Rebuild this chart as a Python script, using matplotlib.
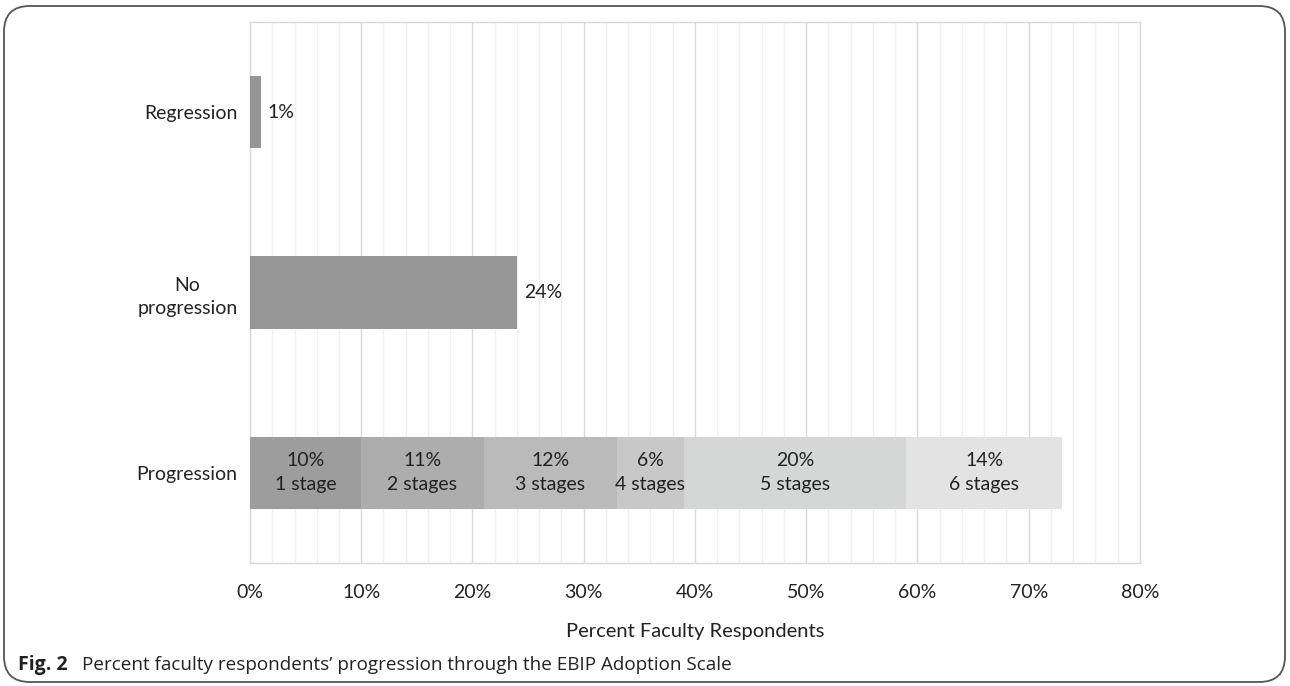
import matplotlib
matplotlib.use("Agg")
import matplotlib.pyplot as plt
from matplotlib.patches import FancyBboxPatch
from matplotlib.ticker import MultipleLocator, PercentFormatter

# Data
categories = ["Progression", "No\nprogression", "Regression"]
single_values = {"Regression": 1, "No\nprogression": 24}
stage_values = [10, 11, 12, 6, 20, 14]
stage_labels = ["1 stage", "2 stages", "3 stages", "4 stages", "5 stages", "6 stages"]
stage_colors = ["#9d9d9d", "#adadad", "#bababa", "#c8c8c8", "#d5d6d6", "#e3e3e3"]
single_color = "#969696"

plt.rcParams["font.family"] = ["Lato", "DejaVu Sans"]

fig = plt.figure(figsize=(12.9, 6.86), dpi=100)
ax = fig.add_axes([0.1938, 0.1793, 0.6899, 0.7886])

ypos = {c: i for i, c in enumerate(categories)}
bar_h = 0.4

# Stacked progression bar
left = 0
for v, lab, col in zip(stage_values, stage_labels, stage_colors):
    ax.barh(ypos["Progression"], v, left=left, height=bar_h, color=col, zorder=3)
    ax.text(left + v / 2, ypos["Progression"], f"{v}%\n{lab}", ha="center", va="center",
            fontsize=14, color="#222222", linespacing=1.5, zorder=4)
    left += v

# Single bars
for cat, v in single_values.items():
    ax.barh(ypos[cat], v, height=bar_h, color=single_color, zorder=3)
    ax.text(v + 0.6, ypos[cat], f"{v}%", ha="left", va="center", fontsize=14,
            color="#222222", zorder=4)

ax.set_xlim(0, 80)
ax.set_ylim(-0.5, 2.5)
ax.xaxis.set_major_locator(MultipleLocator(10))
ax.xaxis.set_minor_locator(MultipleLocator(2))
ax.xaxis.set_major_formatter(PercentFormatter(decimals=0))
ax.grid(axis="x", which="major", color="#d9d9d9", linewidth=1.0, zorder=0)
ax.grid(axis="x", which="minor", color="#f0f0f0", linewidth=1.0, zorder=0)
ax.set_axisbelow(True)

ax.set_yticks(list(ypos.values()))
ax.set_yticklabels(categories, multialignment="center", linespacing=1.4)
ax.tick_params(axis="both", which="both", length=0, labelsize=14, colors="#222222")
ax.tick_params(axis="x", pad=15)
ax.tick_params(axis="y", pad=9)
for s in ax.spines.values():
    s.set_color("#d9d9d9")
    s.set_linewidth(1.0)

ax.set_xlabel("Percent Faculty Respondents", fontsize=14.5, color="#222222", labelpad=16)

# Caption
fig.text(0.014, 0.030, "Fig. 2", fontsize=14, fontweight="bold", color="#222222",
         family=["Open Sans", "DejaVu Sans"], va="center")
fig.text(0.0636, 0.030, "Percent faculty respondents\u2019 progression through the EBIP Adoption Scale",
         fontsize=13.6, color="#222222", family=["Open Sans", "DejaVu Sans"], va="center")

# Rounded frame around the figure
frame = FancyBboxPatch((4 / 1290, 4 / 686), 1 - 9 / 1290, 1 - 10 / 686,
                       boxstyle="round,pad=0,rounding_size=0.02",
                       transform=fig.transFigure, fill=False,
                       edgecolor="#555555", linewidth=1.3, mutation_aspect=1290 / 686)
fig.patches.append(frame)

fig.savefig("out.png", dpi=100)
